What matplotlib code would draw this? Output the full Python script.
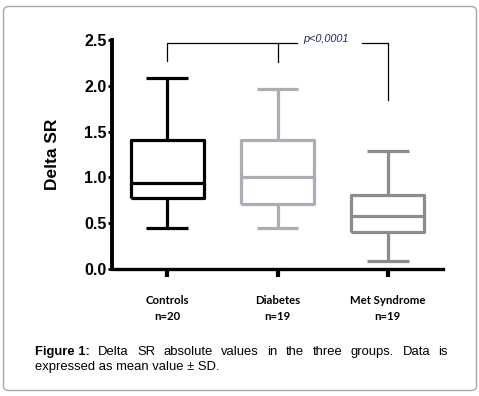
import matplotlib
matplotlib.use("Agg")
import matplotlib.pyplot as plt
from matplotlib.patches import FancyBboxPatch

# ---- data ----
groups = ["Controls", "Diabetes", "Met Syndrome"]
n_labels = ["n=20", "n=19", "n=19"]
whis_low = [0.45, 0.45, 0.09]
q1 = [0.78, 0.71, 0.40]
median = [0.94, 1.00, 0.58]
q3 = [1.41, 1.41, 0.81]
whis_high = [2.09, 1.97, 1.29]
colors = ["#000000", "#adadb5", "#8c8c8c"]
yticks = [0.0, 0.5, 1.0, 1.5, 2.0, 2.5]
p_text = "p<0,0001"

W, H = 479, 396
fig = plt.figure(figsize=(W / 100, H / 100), dpi=100)

# rounded border
border = FancyBboxPatch((3.5 / W, 5.5 / H), 473 / W, 384 / H,
                        boxstyle="round,pad=0,rounding_size=0.012",
                        transform=fig.transFigure, fill=False,
                        edgecolor="#a8a8a8", linewidth=1.0)
fig.patches.append(border)

ax = fig.add_axes([112 / W, 127 / H, 331 / W, 229 / H])
positions = [1, 2, 3]
for i in range(3):
    st = [dict(med=median[i], q1=q1[i], q3=q3[i],
               whislo=whis_low[i], whishi=whis_high[i], fliers=[])]
    c = colors[i]
    lp = dict(color=c, linewidth=2.3, solid_capstyle="butt")
    ax.bxp(st, positions=[positions[i]], widths=0.66, capwidths=0.38,
           showfliers=False, boxprops=lp, whiskerprops=lp, capprops=lp,
           medianprops=lp, manage_ticks=False)

ax.set_xlim(0.5, 3.5)
ax.set_ylim(0, 2.5)
for s in ["top", "right"]:
    ax.spines[s].set_visible(False)
ax.spines["left"].set_linewidth(2.8)
ax.spines["bottom"].set_linewidth(2.4)

ax.set_yticks(yticks)
ax.set_yticklabels([f"{v:.1f}" for v in yticks], fontsize=11.5,
                   fontweight="bold", family="Liberation Sans")
ax.tick_params(axis="y", length=3, width=2, pad=1)
ax.set_xticks(positions)
ax.set_xticklabels([])
ax.tick_params(axis="x", length=6, width=3)

ax.set_ylabel("Delta SR", fontsize=12.5, fontweight="bold",
              family="Liberation Sans", labelpad=17)

# category labels
trans = ax.get_xaxis_transform()
for i in range(3):
    ax.text(positions[i], -0.139, groups[i], transform=trans, ha="center",
            va="center", fontsize=8.2, fontweight="bold", family="Lato")
    ax.text(positions[i], -0.209, n_labels[i], transform=trans, ha="center",
            va="center", fontsize=8.2, fontweight="bold", family="Lato")

# significance bracket
bk = dict(color="black", linewidth=0.9, clip_on=False)
ax.plot([1, 1, 2.18], [2.27, 2.465, 2.465], **bk)
ax.plot([2, 2], [2.465, 2.26], **bk)
ax.plot([2.77, 3, 3], [2.465, 2.465, 1.85], **bk)
ax.text(2.44, 2.51, p_text, ha="center", va="center", fontsize=7.8,
        style="italic", color="#1f2a5a", family="Liberation Sans",
        clip_on=False)

# caption with justified first line
fig.canvas.draw()
renderer = fig.canvas.get_renderer()
line1 = [("Figure 1:", "bold"), ("Delta", "normal"), ("SR", "normal"),
         ("absolute", "normal"), ("values", "normal"), ("in", "normal"),
         ("the", "normal"), ("three", "normal"), ("groups.", "normal"),
         ("Data", "normal"), ("is", "normal")]
x0, x1 = 35, 448
y1 = 1 - 352 / H
texts = []
widths = []
for word, wt in line1:
    t = fig.text(0, y1, word, fontsize=9.4, fontweight=wt,
                 family="Liberation Sans", va="center", ha="left")
    bb = t.get_window_extent(renderer)
    texts.append(t)
    widths.append(bb.width)
gap = (x1 - x0 - sum(widths)) / (len(widths) - 1)
x = x0
for t, w in zip(texts, widths):
    t.set_x(x / W)
    x += w + gap
fig.text(x0 / W, 1 - 367 / H, "expressed as mean value ± SD.", fontsize=9.4,
         family="Liberation Sans", va="center", ha="left")

fig.savefig("out.png", dpi=100)
